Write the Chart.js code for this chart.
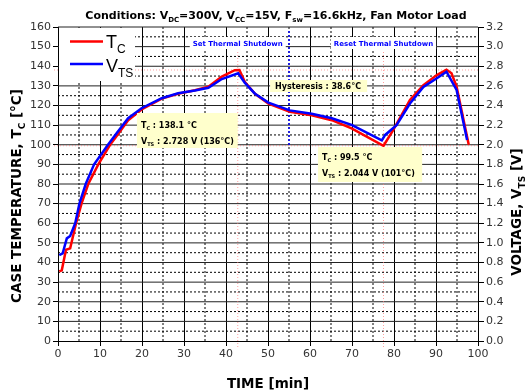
<!DOCTYPE html>
<html>
<head>
<meta charset="utf-8">
<script src="https://cdn.jsdelivr.net/npm/chart.js@4.4.1/dist/chart.umd.min.js"></script>
<style>
  html, body { margin: 0; padding: 0; background: #fff; }
  #wrap { width: 529px; height: 390px; }
</style>
</head>
<body>
<div id="wrap"><canvas id="chart"></canvas></div>
<script>
// case temperature T_C (left axis, degC) against time in minutes
const tcTime = [0.3, 0.9, 1.9, 2.9, 4.3, 5.6, 7.2, 9.6, 12.4, 13.8, 16.7, 19.9, 24.7, 28.6, 32.6,
  35.8, 39.0, 42.1, 43.2, 44.5, 46.9, 50.1, 55.2, 60.4, 65.2, 69.9, 77.5, 79.8, 83.8, 87.0,
  90.2, 92.5, 93.7, 94.9, 97.8];
const tcValues = [35.5, 36, 46.5, 47.2, 60, 70, 80, 90, 100, 104, 112.5, 118, 123.5, 126, 127.8,
  129.6, 134.7, 138, 138.1, 132, 126, 121, 116.8, 115, 112.5, 108.3, 99.5, 107.5, 122.8, 130.4,
  135.5, 138.2, 136.4, 129.6, 100];

// thermal sense voltage V_TS (right axis, volts)
const vtsTime = [0.3, 1.1, 2.1, 2.9, 4.1, 5.1, 6.6, 8.6, 11.9, 14.0, 16.7, 19.9, 24.7, 28.6, 32.6,
  35.8, 39.0, 42.9, 44.5, 46.9, 50.1, 55.2, 60.4, 65.2, 69.9, 77.1, 77.9, 80.6, 83.8, 87.0,
  90.2, 92.5, 94.9, 97.4];
const vtsValues = [0.876, 0.892, 1.046, 1.07, 1.2, 1.4, 1.6, 1.8, 2.0, 2.12, 2.27, 2.372, 2.474, 2.524, 2.552,
  2.58, 2.67, 2.728, 2.63, 2.52, 2.43, 2.35, 2.316, 2.27, 2.202, 2.044, 2.1, 2.2, 2.42, 2.588,
  2.678, 2.744, 2.558, 2.048];

// markers
const setTime = 42.8, resetTime = 77.5, hystTime = 55;
const tcPeak = 138.1, tcLow = 99.5;

const FONT = '"DejaVu Sans", Verdana, sans-serif';

// draw a run of text pieces, some of them as subscripts
function rich(ctx, parts, x, y, size, opts) {
  opts = opts || {};
  const bold = opts.bold ? 'bold ' : '';
  const fam = opts.family || FONT;
  const subSize = Math.round(size * 0.65);
  let w = 0;
  parts.forEach(p => {
    ctx.font = bold + (p.sub ? subSize : size) + 'px ' + fam;
    w += ctx.measureText(p.t).width + (p.dx || 0);
  });
  let cx = x;
  if (opts.align === 'center') cx = x - w / 2;
  ctx.textBaseline = 'alphabetic';
  ctx.textAlign = 'left';
  ctx.fillStyle = opts.color || '#000';
  parts.forEach(p => {
    ctx.font = bold + (p.sub ? subSize : size) + 'px ' + fam;
    cx += (p.dx || 0);
    ctx.fillText(p.t, cx, y + (p.sub ? size * 0.3 : 0));
    cx += ctx.measureText(p.t).width;
  });
  return w;
}

function hLine(ctx, area, py, dash, color, width) {
  ctx.save();
  ctx.strokeStyle = color; ctx.lineWidth = width; ctx.setLineDash(dash);
  ctx.beginPath(); ctx.moveTo(area.left, py); ctx.lineTo(area.right, py); ctx.stroke();
  ctx.restore();
}
function vLine(ctx, px, y0, y1, dash, color, width) {
  ctx.save();
  ctx.strokeStyle = color; ctx.lineWidth = width; ctx.setLineDash(dash);
  ctx.beginPath(); ctx.moveTo(px, y0); ctx.lineTo(px, y1); ctx.stroke();
  ctx.restore();
}

function noteBox(ctx, x0, y0, x1, y1) {
  ctx.fillStyle = '#ffffcc';
  ctx.fillRect(x0, y0, x1 - x0, y1 - y0);
}

const decor = {
  id: 'decor',
  beforeDatasetsDraw(chart) {
    const { ctx, chartArea: a, scales: { x, y } } = chart;
    // dotted minor grid
    for (let v = 5; v < 100; v += 10) vLine(ctx, x.getPixelForValue(v), a.top, a.bottom, [2, 2], '#000', 1);
    for (let v = 5; v < 160; v += 10) hLine(ctx, a, y.getPixelForValue(v), [2, 2], '#000', 1);
    // solid major grid
    for (let v = 10; v < 100; v += 10) vLine(ctx, Math.round(x.getPixelForValue(v)) + 0.5, a.top, a.bottom, [], '#000', 1);
    for (let v = 10; v <= 160; v += 10) hLine(ctx, a, y.getPixelForValue(v), [], '#222', 1);
    // reference lines
    const pink = 'rgba(255,120,120,0.7)';
    hLine(ctx, { left: a.left - 4, right: a.right }, y.getPixelForValue(tcPeak), [1, 2], pink, 1);
    hLine(ctx, { left: a.left - 4, right: a.right }, y.getPixelForValue(tcLow), [1, 2], pink, 1);
    vLine(ctx, x.getPixelForValue(setTime), a.top + 25, a.bottom + 8, [1, 2], pink, 1);
    vLine(ctx, x.getPixelForValue(resetTime), a.top + 25, a.bottom + 8, [1, 2], pink, 1);
    vLine(ctx, x.getPixelForValue(hystTime), a.top + 4, y.getPixelForValue(tcLow), [2, 2], '#0000ff', 1.5);
  },
  afterDatasetsDraw(chart) {
    const { ctx, chartArea: a, scales: { x, y } } = chart;
    ctx.save();
    // legend
    ctx.fillStyle = '#fff';
    ctx.fillRect(a.left + 1, a.top + 1, 76, 53);
    ctx.lineWidth = 2.5;
    ctx.strokeStyle = '#ff0000';
    ctx.beginPath(); ctx.moveTo(70, a.top + 14.5); ctx.lineTo(103, a.top + 14.5); ctx.stroke();
    ctx.strokeStyle = '#0000ff';
    ctx.beginPath(); ctx.moveTo(70, a.top + 37); ctx.lineTo(103, a.top + 37); ctx.stroke();
    const LEG = '"Liberation Sans", Arial, sans-serif';
    rich(ctx, [{ t: 'T' }, { t: 'C', sub: true, dx: 0 }], 106, a.top + 21, 18, { family: LEG });
    rich(ctx, [{ t: 'V' }, { t: 'TS', sub: true, dx: 0 }], 106, a.top + 45, 18, { family: LEG });

    // annotation boxes
    const bx = (t) => x.getPixelForValue(t);
    let l = bx(18.8), t0 = 113;
    noteBox(ctx, l, t0, bx(setTime), t0 + 35);
    rich(ctx, [{ t: 'T' }, { t: 'C', sub: true }, { t: ' : 138.1 °C' }], l + 4, t0 + 15, 8, { bold: true });
    rich(ctx, [{ t: 'V' }, { t: 'TS', sub: true }, { t: ' : 2.728 V (136°C)' }], l + 4, t0 + 31, 8, { bold: true });
    l = bx(61.9); t0 = 147;
    noteBox(ctx, l, t0, bx(86.7), t0 + 35);
    rich(ctx, [{ t: 'T' }, { t: 'C', sub: true }, { t: ' : 99.5 °C' }], l + 4, t0 + 13, 8, { bold: true });
    rich(ctx, [{ t: 'V' }, { t: 'TS', sub: true }, { t: ' : 2.044 V (101°C)' }], l + 4, t0 + 29, 8, { bold: true });
    l = bx(50.5);
    noteBox(ctx, l, 80, bx(73.6), 92);
    rich(ctx, [{ t: 'Hysteresis : 38.6°C' }], l + 5, 89, 8, { bold: true });

    // shutdown labels
    [['Set Thermal Shutdown', setTime], ['Reset Thermal Shutdown', resetTime]].forEach(([txt, tv]) => {
      ctx.font = 'bold 7px ' + FONT;
      const w = ctx.measureText(txt).width;
      const cx = bx(tv);
      ctx.fillStyle = '#fff';
      ctx.fillRect(cx - w / 2 - 3, 37, w + 6, 12);
      rich(ctx, [{ t: txt }], cx, 45.5, 7, { bold: true, align: 'center', color: '#0000ff' });
    });

    // title
    rich(ctx, [{ t: 'Conditions: V' }, { t: 'DC', sub: true }, { t: '=300V, V' }, { t: 'CC', sub: true },
      { t: '=15V, F' }, { t: 'sw', sub: true }, { t: '=16.6kHz, Fan Motor Load' }],
      (a.left + a.right) / 2 + 8, 19, 11, { bold: true, align: 'center' });

    // axis titles
    rich(ctx, [{ t: 'TIME [min]' }], (a.left + a.right) / 2, 388, 13.5, { bold: true, align: 'center' });
    ctx.save();
    ctx.translate(21, (a.top + a.bottom) / 2 + 12);
    ctx.rotate(-Math.PI / 2);
    rich(ctx, [{ t: 'CASE TEMPERATURE, T' }, { t: 'C', sub: true }, { t: ' [°C]' }], 0, 0, 13.5, { bold: true, align: 'center' });
    ctx.restore();
    ctx.save();
    ctx.translate(521, (a.top + a.bottom) / 2 + 28);
    ctx.rotate(-Math.PI / 2);
    rich(ctx, [{ t: 'VOLTAGE, V' }, { t: 'TS', sub: true }, { t: ' [V]' }], 0, 0, 13.5, { bold: true, align: 'center' });
    ctx.restore();
    ctx.restore();
  }
};

const tickFont = { family: FONT, size: 11 };

new Chart(document.getElementById('chart'), {
  type: 'line',
  data: {
    datasets: [
      {
        label: 'T_C',
        data: tcTime.map((t, i) => ({ x: t, y: tcValues[i] })),
        borderColor: '#ff0000',
        borderWidth: 2.5,
        pointRadius: 0,
        tension: 0,
        yAxisID: 'y',
        order: 2
      },
      {
        label: 'V_TS',
        data: vtsTime.map((t, i) => ({ x: t, y: vtsValues[i] })),
        borderColor: '#0000ff',
        borderWidth: 2.5,
        pointRadius: 0,
        tension: 0,
        yAxisID: 'y2',
        order: 1
      }
    ]
  },
  options: {
    responsive: true,
    maintainAspectRatio: false,
    animation: false,
    devicePixelRatio: 1,
    layout: { padding: { top: 27 } },
    plugins: { legend: { display: false }, tooltip: { enabled: false } },
    scales: {
      x: {
        type: 'linear', min: 0, max: 100,
        ticks: { stepSize: 10, color: '#333', font: tickFont, padding: 2, maxRotation: 0 },
        grid: { drawOnChartArea: false, tickLength: 5, color: '#000' },
        border: { color: '#000', width: 1 },
        afterFit: (s) => { s.height = 49; }
      },
      y: {
        position: 'left', min: 0, max: 160,
        ticks: { stepSize: 10, color: '#333', font: tickFont, padding: 2 },
        grid: { drawOnChartArea: false, tickLength: 5, color: '#000' },
        border: { color: '#000', width: 1 },
        afterFit: (s) => { s.width = 58; }
      },
      y2: {
        position: 'right', min: 0, max: 3.2,
        ticks: { stepSize: 0.2, color: '#333', font: tickFont, padding: 2, callback: (v) => v.toFixed(1) },
        grid: { drawOnChartArea: false, tickLength: 6, color: '#000' },
        border: { color: '#000', width: 1 },
        afterFit: (s) => { s.width = 51; }
      }
    }
  },
  plugins: [decor]
});
</script>
</body>
</html>
